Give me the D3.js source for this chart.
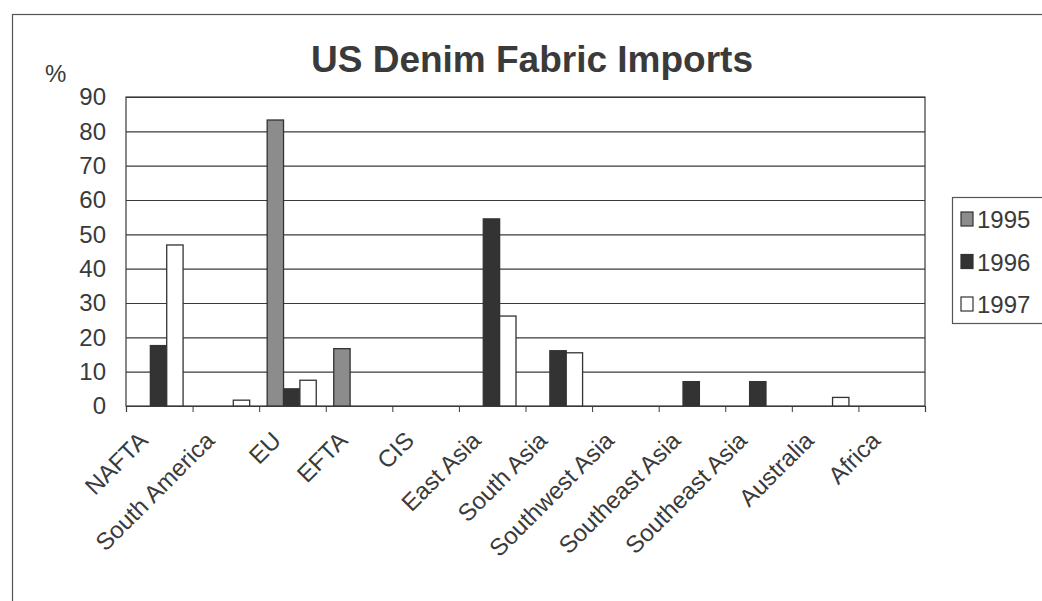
<!DOCTYPE html>
<html>
<head>
<meta charset="utf-8">
<script src="https://cdn.jsdelivr.net/npm/d3@7"></script>
<style>
  body { margin: 0; background: #fff; }
  text { font-family: Arial, "Liberation Sans", sans-serif; fill: #3a3a3a; }
</style>
</head>
<body>
<div class="svg"></div>
<script>
var categories = ["NAFTA", "South America", "EU", "EFTA", "CIS", "East Asia", "South Asia",
  "Southwest Asia", "Southeast Asia", "Southeast Asia", "Australia", "Africa"];
var years = ["1995", "1996", "1997"];
var v1995 = [0, 0, 83.3, 16.7, 0, 0, 0, 0, 0, 0, 0, 0];
var v1996 = [17.6, 0, 5.0, 0, 0, 54.5, 16.1, 0, 7.1, 7.1, 0, 0];
var v1997 = [46.9, 1.7, 7.5, 0, 0, 26.2, 15.5, 0, 0, 0, 2.5, 0];
var yTicks = [0, 10, 20, 30, 40, 50, 60, 70, 80, 90];

var width = 1042, height = 601;
var margin = {top: 97, right: 117, bottom: 195, left: 126};

var fills = {"1995": "#8c8c8c", "1996": "#333333", "1997": "#ffffff"};

var data = categories.map(function(c, i){
  return {i: i, name: c, vals: [
    {year: "1995", v: v1995[i]},
    {year: "1996", v: v1996[i]},
    {year: "1997", v: v1997[i]}
  ]};
});

var svg = d3.select("div.svg").append("svg")
  .attr("width", width)
  .attr("height", height);

// outer frame
svg.append("rect")
  .attr("x", 12.5).attr("y", 14.5)
  .attr("width", 1100).attr("height", 700)
  .attr("fill", "none").attr("stroke", "#555").attr("stroke-width", 1.2);

var x0 = d3.scaleBand()
  .domain(d3.range(categories.length))
  .range([margin.left, width - margin.right]);

var xEdge = d3.scaleLinear()
  .domain([0, categories.length])
  .range([margin.left, width - margin.right]);

var x1 = d3.scaleBand()
  .domain(years)
  .range([8, x0.bandwidth() - 9.5]);

var y = d3.scaleLinear()
  .domain([0, 90])
  .range([height - margin.bottom - 0, margin.top]);

// gridlines
svg.append("g")
  .attr("transform", `translate(${margin.left},0)`)
  .call(d3.axisLeft(y).tickValues(yTicks).tickSize(-(width - margin.right - margin.left)).tickFormat(""))
  .call(g => g.select(".domain").remove())
  .call(g => g.selectAll("line").attr("stroke", "#3a3a3a").attr("stroke-width", 1.2));

// y labels
svg.append("g")
  .attr("transform", `translate(${margin.left},0)`)
  .call(d3.axisLeft(y).tickValues(yTicks).tickSize(0).tickPadding(20))
  .call(g => g.select(".domain").remove())
  .call(g => g.selectAll("text").style("font-size", "24px").attr("fill", "#3a3a3a"));

// plot border
svg.append("rect")
  .attr("x", margin.left).attr("y", margin.top)
  .attr("width", width - margin.right - margin.left)
  .attr("height", y(0) - margin.top)
  .attr("fill", "none").attr("stroke", "#3a3a3a").attr("stroke-width", 1.2);

// bars
var groups = svg.selectAll("g.cat")
  .data(data)
  .enter().append("g")
  .attr("class", "cat")
  .attr("transform", d => `translate(${x0(d.i)},0)`);

groups.selectAll("rect")
  .data(d => d.vals.filter(v => v.v > 0))
  .enter().append("rect")
  .attr("x", d => x1(d.year))
  .attr("y", d => y(d.v))
  .attr("width", x1.bandwidth())
  .attr("height", d => y(0) - y(d.v))
  .attr("fill", d => fills[d.year])
  .attr("stroke", "#333")
  .attr("stroke-width", 1.3);

// x axis with ticks at category edges
svg.append("g")
  .attr("transform", `translate(0,${y(0)})`)
  .call(d3.axisBottom(xEdge).ticks(categories.length).tickSize(6).tickFormat(""))
  .call(g => g.select(".domain").attr("stroke", "#3a3a3a").attr("stroke-width", 1.2))
  .call(g => g.selectAll("line").attr("stroke", "#3a3a3a"));

svg.append("g").selectAll("text")
  .data(data)
  .enter().append("text")
  .attr("transform", d => `translate(${x0(d.i) + x0.bandwidth() / 2 - 10},442) rotate(-45)`)
  .attr("text-anchor", "end")
  .style("font-size", "24px")
  .text(d => d.name);

// title
svg.append("text")
  .attr("x", 532).attr("y", 72)
  .attr("text-anchor", "middle")
  .style("font-size", "37px")
  .style("font-weight", "bold")
  .attr("fill", "#444")
  .text("US Denim Fabric Imports");

svg.append("text")
  .attr("x", 45).attr("y", 82)
  .style("font-size", "24px")
  .text("%");

// legend
var legend = svg.append("g");
legend.append("rect")
  .attr("x", 952.5).attr("y", 197.5)
  .attr("width", 120).attr("height", 126)
  .attr("fill", "#fff").attr("stroke", "#555").attr("stroke-width", 1.2);

var items = legend.selectAll("g.item")
  .data(years)
  .enter().append("g")
  .attr("class", "item")
  .attr("transform", (d, i) => `translate(961,${219 + i * 42.5})`);

items.append("rect")
  .attr("x", 0).attr("y", -7)
  .attr("width", 12).attr("height", 14)
  .attr("fill", d => fills[d])
  .attr("stroke", "#333").attr("stroke-width", 1.2);

items.append("text")
  .attr("x", 16).attr("y", 9)
  .style("font-size", "24px")
  .text(d => d);
</script>
</body>
</html>
